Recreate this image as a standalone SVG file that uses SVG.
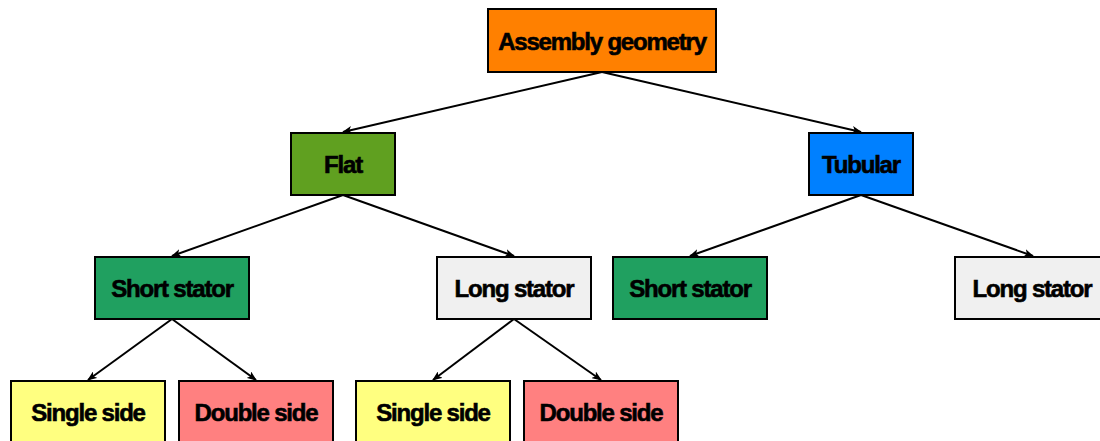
<svg xmlns="http://www.w3.org/2000/svg" width="1100" height="441" viewBox="0 0 1100 441">
<style>
.n rect{stroke:#000;stroke-width:2}
.n text{font-family:"Liberation Sans",Arial,sans-serif;font-weight:bold;font-size:24px;text-anchor:middle;fill:#000;letter-spacing:-1.2px;stroke:#000;stroke-width:0.6px}
.e line{stroke:#000;stroke-width:2;marker-end:url(#ah)}
</style>
<defs>
<marker id="ah" markerWidth="10" markerHeight="8" refX="9" refY="4" orient="auto" markerUnits="userSpaceOnUse">
<path d="M0,0 L10,4 L0,8 L2.5,4 Z" fill="#000"/>
</marker>
</defs>
<rect width="1100" height="441" fill="#fff"/>
<g id="connectors" class="e">
<line x1="602" y1="72" x2="343" y2="132"/>
<line x1="602" y1="72" x2="861" y2="132"/>
<line x1="343" y1="195" x2="172" y2="256"/>
<line x1="343" y1="195" x2="514" y2="256"/>
<line x1="861" y1="195" x2="690" y2="256"/>
<line x1="861" y1="195" x2="1033" y2="256"/>
<line x1="172" y1="319" x2="88" y2="380"/>
<line x1="172" y1="319" x2="256" y2="380"/>
<line x1="514" y1="319" x2="433" y2="380"/>
<line x1="514" y1="319" x2="601" y2="380"/>
</g>
<g id="assembly" class="n"><rect x="488" y="9" width="228" height="63" fill="#FF8000"/><text x="602" y="50">Assembly geometry</text></g>
<g id="flat" class="n"><rect x="291" y="133" width="104" height="62" fill="#60A020"/><text x="343" y="173">Flat</text></g>
<g id="tubular" class="n"><rect x="809" y="133" width="104" height="62" fill="#0080FF"/><text x="861" y="173">Tubular</text></g>
<g id="flat-short" class="n"><rect x="95" y="257" width="154" height="62" fill="#20A060"/><text x="172" y="297">Short stator</text></g>
<g id="flat-long" class="n"><rect x="437" y="257" width="154" height="62" fill="#F0F0F0"/><text x="514" y="297">Long stator</text></g>
<g id="tub-short" class="n"><rect x="613" y="257" width="154" height="62" fill="#20A060"/><text x="690" y="297">Short stator</text></g>
<g id="tub-long" class="n"><rect x="955" y="257" width="154" height="62" fill="#F0F0F0"/><text x="1032" y="297">Long stator</text></g>
<g id="short-single" class="n"><rect x="11" y="381" width="154" height="62" fill="#FFFF80"/><text x="88" y="421">Single side</text></g>
<g id="short-double" class="n"><rect x="179" y="381" width="154" height="62" fill="#FF8080"/><text x="256" y="421">Double side</text></g>
<g id="long-single" class="n"><rect x="356" y="381" width="154" height="62" fill="#FFFF80"/><text x="433" y="421">Single side</text></g>
<g id="long-double" class="n"><rect x="524" y="381" width="154" height="62" fill="#FF8080"/><text x="601" y="421">Double side</text></g>
</svg>
